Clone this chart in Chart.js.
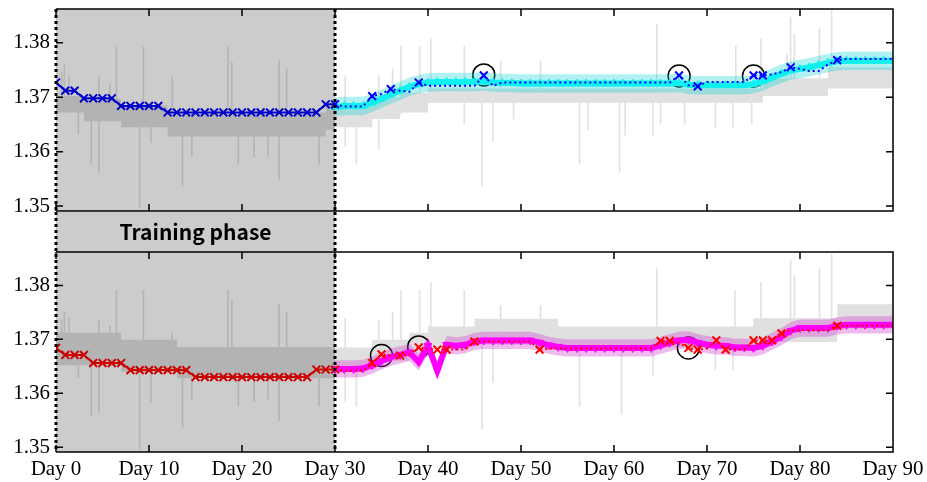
<!DOCTYPE html>
<html>
<head>
<meta charset="utf-8">
<script src="https://cdn.jsdelivr.net/npm/chart.js@4.4.0/dist/chart.umd.min.js"></script>
<style>
    html, body { margin: 0; padding: 0; background: #fff; }
    #wrap { position: relative; width: 927px; height: 482px; }
    #wrap canvas { position: absolute; left: 0; }
</style>
</head>
<body>
<div id="wrap">
    <canvas id="topChart" width="927" height="214" style="top:0"></canvas>
    <canvas id="bottomChart" width="927" height="270" style="top:212px"></canvas>
</div>
<script>
// x axis: days, training phase is day 0..30
const trainEnd = 30;
const predStart = 30;
const dayEnd = 90;
const dayTicks = [0, 10, 20, 30, 40, 50, 60, 70, 80, 90];
const yTicks = [1.35, 1.36, 1.37, 1.38];
const yMin = 1.3491, yMax = 1.3862;
const stripLabel = 'Training phase';

// top panel: daily observed values, day 0..90
const blueObs = [
    1.3727, 1.3712, 1.3712, 1.3698, 1.3698, 1.3698, 1.3698, 1.3684, 1.3684, 1.3684,
    1.3684, 1.3684, 1.3672, 1.3672, 1.3672, 1.3672, 1.3672, 1.3672, 1.3672, 1.3672,
    1.3672, 1.3672, 1.3672, 1.3672, 1.3672, 1.3672, 1.3672, 1.3672, 1.3672, 1.3687,
    1.3687, 1.3683, 1.3683, 1.3683, 1.3702, 1.3706, 1.3715, 1.3712, 1.3710, 1.3727,
    1.3721, 1.3721, 1.3721, 1.3721, 1.3721, 1.3721, 1.3740, 1.3721, 1.3727, 1.3727,
    1.3727, 1.3727, 1.3727, 1.3727, 1.3727, 1.3727, 1.3727, 1.3727, 1.3727, 1.3727,
    1.3727, 1.3727, 1.3727, 1.3727, 1.3727, 1.3727, 1.3727, 1.3740, 1.3722, 1.3720,
    1.3728, 1.3728, 1.3728, 1.3728, 1.3728, 1.3740, 1.3740, 1.3742, 1.3746, 1.3755,
    1.3752, 1.3748, 1.3748, 1.3760, 1.3768, 1.3770, 1.3770, 1.3770, 1.3770, 1.3770,
    1.3770
];
const blueMarks = [34, 36, 39, 46, 67, 69, 75, 76, 79, 84];
// top panel: predicted values, day 30..90
const cyanPred = [
    1.3682, 1.3684, 1.3684, 1.3684, 1.3690, 1.3697, 1.3705, 1.3712, 1.3719, 1.3724,
    1.3727, 1.3728, 1.3728, 1.3728, 1.3728, 1.3728, 1.3729, 1.3727, 1.3726, 1.3726,
    1.3725, 1.3725, 1.3725, 1.3725, 1.3725, 1.3725, 1.3725, 1.3725, 1.3725, 1.3725,
    1.3725, 1.3725, 1.3725, 1.3725, 1.3725, 1.3725, 1.3725, 1.3726, 1.3723, 1.3722,
    1.3722, 1.3722, 1.3722, 1.3722, 1.3722, 1.3724, 1.3729, 1.3736, 1.3743, 1.3749,
    1.3752, 1.3755, 1.3759, 1.3763, 1.3766, 1.3767, 1.3767, 1.3767, 1.3767, 1.3767,
    1.3767
];
const cyanSpread = 0.0017;
// raw sensor band: [start day, low, high]
const topBand = [
    [0, 1.3672, 1.3702], [3, 1.3656, 1.3697], [7, 1.3645, 1.3685], [12, 1.3628, 1.3672],
    [29, 1.3640, 1.3686], [30, 1.3645, 1.3686], [34, 1.3660, 1.3700], [37, 1.3672, 1.3708],
    [40, 1.3690, 1.3716], [76, 1.3702, 1.3735], [83, 1.3716, 1.3755]
];
// raw sensor spikes: [day, low, high]
const topSpikes = [
    [0.6, 1.3700, 1.3745], [0.9, 1.3700, 1.3760], [1.4, 1.3690, 1.3740], [2.4, 1.3632, 1.3690],
    [3.8, 1.3577, 1.3680], [4.6, 1.3562, 1.3739], [5.8, 1.3660, 1.3725], [6.5, 1.3660, 1.3792],
    [9.0, 1.3497, 1.3660], [9.4, 1.3650, 1.3792], [10.2, 1.3617, 1.3660], [12.5, 1.3640, 1.3737],
    [13.6, 1.3536, 1.3640], [14.6, 1.3591, 1.3640], [18.5, 1.3640, 1.3792], [18.9, 1.3640, 1.3764],
    [19.6, 1.3577, 1.3640], [21.3, 1.3590, 1.3640], [22.8, 1.3591, 1.3640], [24.0, 1.3549, 1.3767],
    [24.8, 1.3640, 1.3752], [28.3, 1.3577, 1.3640], [31.1, 1.3610, 1.3739], [32.3, 1.3577, 1.3650],
    [34.7, 1.3604, 1.3739], [36.2, 1.3660, 1.3752], [37.1, 1.3670, 1.3794], [39.1, 1.3680, 1.3794],
    [40.3, 1.3690, 1.3807], [43.9, 1.3650, 1.3794], [45.8, 1.3537, 1.3700], [47.0, 1.3619, 1.3700],
    [47.8, 1.3690, 1.3767], [49.2, 1.3660, 1.3700], [52.1, 1.3690, 1.3767], [56.3, 1.3577, 1.3690],
    [57.2, 1.3640, 1.3690], [60.6, 1.3562, 1.3690], [61.2, 1.3630, 1.3690], [64.2, 1.3630, 1.3690],
    [64.6, 1.3690, 1.3834], [65.0, 1.3650, 1.3690], [67.6, 1.3650, 1.3690], [70.9, 1.3645, 1.3690],
    [72.8, 1.3645, 1.3690], [73.1, 1.3700, 1.3794], [74.8, 1.3650, 1.3700], [75.8, 1.3710, 1.3807],
    [78.6, 1.3710, 1.3779], [79.0, 1.3710, 1.3847], [79.4, 1.3710, 1.3816], [82.1, 1.3720, 1.3827],
    [83.4, 1.3720, 1.3862]
];
const topCircleDays = [46, 67, 75];
const topCircleVals = [1.3741, 1.3739, 1.3739];

// bottom panel
const redObs = [
    1.3684, 1.3671, 1.3671, 1.3671, 1.3656, 1.3656, 1.3656, 1.3656, 1.3643, 1.3643,
    1.3643, 1.3643, 1.3643, 1.3643, 1.3643, 1.3630, 1.3630, 1.3630, 1.3630, 1.3630,
    1.3630, 1.3630, 1.3630, 1.3630, 1.3630, 1.3630, 1.3630, 1.3630, 1.3644, 1.3644,
    1.3644, 1.3642, 1.3642, 1.3642, 1.3656, 1.3672, 1.3670, 1.3670, 1.3672, 1.3685,
    1.3682, 1.3681, 1.3681, 1.3681, 1.3681, 1.3696, 1.3696, 1.3696, 1.3696, 1.3696,
    1.3696, 1.3696, 1.3681, 1.3683, 1.3683, 1.3683, 1.3683, 1.3683, 1.3683, 1.3683,
    1.3683, 1.3683, 1.3683, 1.3683, 1.3683, 1.3697, 1.3697, 1.3693, 1.3684, 1.3681,
    1.3683, 1.3698, 1.3681, 1.3681, 1.3681, 1.3698, 1.3698, 1.3698, 1.3711, 1.3717,
    1.3717, 1.3717, 1.3717, 1.3717, 1.3725, 1.3725, 1.3725, 1.3725, 1.3725, 1.3725,
    1.3725
];
const redMarks = [34, 35, 37, 39, 41, 42, 45, 52, 65, 66, 68, 69, 71, 72, 75, 76, 77, 78, 84];
const magentaPred = [
    1.3645, 1.3645, 1.3645, 1.3646, 1.3652, 1.3660, 1.3667, 1.3671, 1.3676, 1.3658,
    1.3688, 1.3642, 1.3690, 1.3688, 1.3690, 1.3696, 1.3698, 1.3698, 1.3698, 1.3698,
    1.3698, 1.3698, 1.3694, 1.3689, 1.3686, 1.3684, 1.3684, 1.3684, 1.3684, 1.3684,
    1.3684, 1.3684, 1.3684, 1.3684, 1.3684, 1.3689, 1.3694, 1.3698, 1.3699, 1.3694,
    1.3690, 1.3688, 1.3688, 1.3685, 1.3685, 1.3684, 1.3688, 1.3696, 1.3705, 1.3716,
    1.3721, 1.3721, 1.3721, 1.3721, 1.3725, 1.3727, 1.3727, 1.3727, 1.3727, 1.3727,
    1.3727
];
const magentaSpread = 0.0016;
const bottomBand = [
    [0, 1.3652, 1.3712], [7, 1.3640, 1.3699], [13, 1.3628, 1.3686], [30, 1.3650, 1.3685],
    [34, 1.3660, 1.3699], [38, 1.3670, 1.3712], [40, 1.3685, 1.3724], [45, 1.3690, 1.3738],
    [54, 1.3685, 1.3724], [75, 1.3695, 1.3739], [84, 1.3720, 1.3765]
];
const bottomSpikes = [
    [0.6, 1.3690, 1.3736], [0.9, 1.3690, 1.3751], [1.4, 1.3690, 1.3740], [2.4, 1.3629, 1.3660],
    [3.8, 1.3558, 1.3660], [4.6, 1.3564, 1.3736], [5.8, 1.3660, 1.3725], [6.5, 1.3660, 1.3791],
    [9.0, 1.3497, 1.3645], [9.4, 1.3650, 1.3791], [10.2, 1.3583, 1.3645], [12.5, 1.3680, 1.3712],
    [13.6, 1.3537, 1.3630], [14.6, 1.3589, 1.3630], [18.5, 1.3680, 1.3791], [18.9, 1.3680, 1.3773],
    [19.6, 1.3576, 1.3630], [21.3, 1.3585, 1.3630], [22.8, 1.3589, 1.3630], [24.0, 1.3549, 1.3765],
    [24.8, 1.3680, 1.3751], [28.3, 1.3576, 1.3630], [31.1, 1.3585, 1.3739], [32.3, 1.3576, 1.3650],
    [34.7, 1.3660, 1.3736], [36.2, 1.3670, 1.3751], [37.1, 1.3680, 1.3791], [39.1, 1.3690, 1.3791],
    [40.3, 1.3700, 1.3806], [43.9, 1.3700, 1.3791], [45.8, 1.3534, 1.3690], [47.0, 1.3620, 1.3690],
    [47.8, 1.3720, 1.3763], [52.1, 1.3720, 1.3763], [56.3, 1.3576, 1.3684], [60.8, 1.3561, 1.3684],
    [64.2, 1.3632, 1.3684], [64.6, 1.3710, 1.3831], [70.9, 1.3644, 1.3684], [72.8, 1.3644, 1.3684],
    [73.0, 1.3710, 1.3791], [75.8, 1.3720, 1.3806], [79.0, 1.3720, 1.3846], [79.4, 1.3720, 1.3818],
    [82.1, 1.3730, 1.3831], [83.4, 1.3740, 1.3858]
];
const bottomCircleDays = [35, 39, 68];
const bottomCircleVals = [1.3670, 1.3686, 1.3684];

Chart.defaults.font.family = '"Liberation Serif", "Times New Roman", serif';
Chart.defaults.font.size = 21;
Chart.defaults.color = '#000';

// frame, inward ticks, training shade and dotted borders
const panelFrame = {
    id: 'panelFrame',
    afterDatasetsDraw(chart, args, opts) {
        const ctx = chart.ctx, a = chart.chartArea;
        const xs = chart.scales.x, ys = chart.scales.y;
        const xa = xs.getPixelForValue(0), xb = xs.getPixelForValue(trainEnd);
        const top = opts.strip ? 0 : a.top;
        ctx.save();
        ctx.fillStyle = 'rgba(0,0,0,0.2)';
        ctx.fillRect(xa, top, xb - xa, a.bottom - top);

        ctx.strokeStyle = '#000';
        ctx.lineWidth = 1.5;
        ctx.beginPath();
        ctx.moveTo(a.left, a.top);
        ctx.lineTo(a.right, a.top);
        ctx.lineTo(a.right, a.bottom);
        ctx.lineTo(a.left, a.bottom);
        dayTicks.forEach(d => {
            const px = xs.getPixelForValue(d);
            ctx.moveTo(px, a.top); ctx.lineTo(px, a.top + 7);
            ctx.moveTo(px, a.bottom); ctx.lineTo(px, a.bottom - 7);
        });
        yTicks.forEach(v => {
            const py = ys.getPixelForValue(v);
            ctx.moveTo(a.left, py); ctx.lineTo(a.left + 7, py);
            ctx.moveTo(a.right, py); ctx.lineTo(a.right - 7, py);
        });
        ctx.stroke();

        ctx.lineWidth = 3;
        ctx.setLineDash([3, 3]);
        ctx.beginPath();
        [xa, xb].forEach(px => { ctx.moveTo(px, top); ctx.lineTo(px, a.bottom); });
        ctx.stroke();

        if (opts.strip) {
            ctx.setLineDash([]);
            ctx.fillStyle = '#000';
            ctx.font = 'bold 21px "Noto Sans CJK JP"';
            ctx.textAlign = 'center';
            ctx.textBaseline = 'middle';
            ctx.fillText(opts.strip, (xa + xb) / 2, a.top / 2);
        }
        ctx.restore();
    }
};

function bandDatasets(steps, color, order) {
    const lo = steps.map(s => ({x: s[0], y: s[1]}));
    const hi = steps.map(s => ({x: s[0], y: s[2]}));
    const last = steps[steps.length - 1];
    lo.push({x: dayEnd, y: last[1]});
    hi.push({x: dayEnd, y: last[2]});
    return [
        {data: lo, stepped: true, borderWidth: 0, pointRadius: 0, fill: false, order: order},
        {data: hi, stepped: true, borderWidth: 0, pointRadius: 0, fill: '-1', backgroundColor: color, order: order}
    ];
}

function makePanel(canvasId, p) {
    const obsData = p.obs.map((v, d) => ({x: d, y: v}));
    const predData = p.pred.map((v, i) => ({x: predStart + i, y: v}));
    const datasets = [
        ...bandDatasets(p.band, '#e0e0e0', 12),
        {
            type: 'bar',
            data: p.spikes.map(s => ({x: s[0], y: [s[1], s[2]]})),
            backgroundColor: '#e2e2e2',
            barThickness: 1,
            grouped: false,
            order: 11
        },
        {
            data: p.circleDays.map((d, i) => ({x: d, y: p.circleVals[i]})),
            showLine: false,
            pointStyle: 'circle',
            pointRadius: 11,
            pointBorderWidth: 1.5,
            pointBorderColor: '#000',
            pointBackgroundColor: 'rgba(0,0,0,0)',
            order: 10
        },
        {
            data: predData.map(pt => ({x: pt.x, y: pt.y - p.spread})),
            borderWidth: 0, pointRadius: 0, fill: false, order: 9
        },
        {
            data: predData.map(pt => ({x: pt.x, y: pt.y + p.spread})),
            borderWidth: 0, pointRadius: 0, fill: '-1', backgroundColor: p.bandColor, order: 9
        },
        {
            data: predData,
            borderColor: p.predColor,
            borderWidth: 6,
            pointStyle: 'triangle',
            pointRotation: p.triRot,
            pointRadius: 4.5,
            pointBorderWidth: 1,
            pointBackgroundColor: p.predColor,
            pointBorderColor: p.predColor,
            order: 8
        },
        {
            data: obsData,
            borderColor: p.obsColor,
            borderWidth: 2,
            pointStyle: 'crossRot',
            pointRadius: ctx => {
                if (!ctx.raw) return 0;
                const d = ctx.raw.x;
                return (d <= trainEnd || p.marks.includes(d)) ? 5.5 : 0;
            },
            pointBorderWidth: 2,
            pointBorderColor: p.obsColor,
            segment: {
                borderDash: ctx => ctx.p0.parsed.x >= trainEnd ? [2, 3] : undefined
            },
            order: 7
        }
    ];

    return new Chart(document.getElementById(canvasId), {
        type: 'line',
        data: {datasets: datasets},
        plugins: [panelFrame],
        options: {
            responsive: false,
            animation: false,
            events: [],
            layout: {padding: p.padding, autoPadding: false},
            plugins: {
                legend: {display: false},
                tooltip: {enabled: false},
                panelFrame: {strip: p.strip}
            },
            scales: {
                x: {
                    type: 'linear',
                    min: 0,
                    max: dayEnd,
                    offset: false,
                    display: p.showX,
                    grid: {display: false, drawTicks: false},
                    border: {display: false},
                    afterBuildTicks: s => { s.ticks = dayTicks.map(v => ({value: v})); },
                    afterFit: s => {
                        if (p.showX) s.height = 30;
                        s.paddingLeft = 0;
                        s.paddingRight = 0;
                    },
                    ticks: {
                        autoSkip: false,
                        maxRotation: 0,
                        padding: 5,
                        callback: v => 'Day ' + v
                    }
                },
                y: {
                    min: yMin,
                    max: yMax,
                    grid: {display: false, drawTicks: false},
                    border: {display: false},
                    afterBuildTicks: s => { s.ticks = yTicks.map(v => ({value: v})); },
                    afterFit: s => {
                        s.width = 56;
                        s.paddingTop = 0;
                        s.paddingBottom = 0;
                    },
                    ticks: {
                        padding: 6,
                        callback: v => v.toFixed(2)
                    }
                }
            }
        }
    });
}

makePanel('topChart', {
    obs: blueObs, obsColor: '#0000ff', marks: blueMarks,
    pred: cyanPred, predColor: '#10f0f0', bandColor: 'rgba(0,210,210,0.3)', spread: cyanSpread, triRot: 0,
    band: topBand, spikes: topSpikes,
    circleDays: topCircleDays, circleVals: topCircleVals,
    showX: false, strip: null,
    padding: {left: 0, right: 34, top: 9, bottom: 3}
});

makePanel('bottomChart', {
    obs: redObs, obsColor: '#ff0000', marks: redMarks,
    pred: magentaPred, predColor: '#ff00ff', bandColor: 'rgba(210,60,210,0.35)', spread: magentaSpread, triRot: 180,
    band: bottomBand, spikes: bottomSpikes,
    circleDays: bottomCircleDays, circleVals: bottomCircleVals,
    showX: true, strip: stripLabel,
    padding: {left: 0, right: 34, top: 40, bottom: 0}
});
</script>
</body>
</html>
